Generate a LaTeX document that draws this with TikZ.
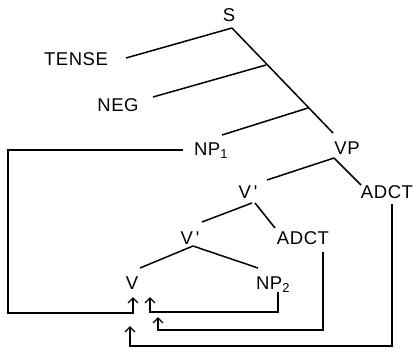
\documentclass[tikz,border=0pt]{standalone}
\usepackage{fontspec}
\setmainfont{Liberation Sans}[LetterSpace=3]
\usepackage{tikz}
\usetikzlibrary{arrows.meta}

\tikzset{
  cat/.style={font=\fontsize{18.5}{20}\selectfont, inner sep=2pt, text height=13pt, text depth=0pt},
  branch/.style={line width=1.5pt},
  move/.style={line width=1.4pt, -{Straight Barb[length=5pt,width=10pt]}}
}

\begin{document}
\begin{tikzpicture}[x=1pt,y=-1pt]
        \useasboundingbox (0,0) rectangle (413,349);
        % categories
        \node[cat] (S) at (229,15) {S};
        \node[cat] (TENSE) at (76,59) {TENSE};
        \node[cat] (NEG) at (118,105) {NEG};
        \node[cat] (NPa) at (211,149) {NP\textsubscript{1}};
        \node[cat] (VP) at (347,148) {VP};
        \node[cat] (Vbarhi) at (248,192) {V\,\textquotesingle};
        \node[cat] (ADCThi) at (387,192) {ADCT};
        \node[cat] (Vbarlo) at (190,238) {V\,\textquotesingle};
        \node[cat] (ADCTlo) at (303,238) {ADCT};
        \node[cat] (V) at (132,283) {V};
        \node[cat] (NPb) at (273,283) {NP\textsubscript{2}};
        % joins on the S--VP line
        \coordinate (joinNEG) at (266,65);
        \coordinate (joinNP) at (308,108);
        % landing sites
        \coordinate (landNPa) at (133,297);
        \coordinate (landNPb) at (150,297);
        \coordinate (landADlo) at (158,317);
        \coordinate (landADhi) at (130,326);
        % tree
        \draw[branch] ([shift={(3,13)}]S.center) -- ([shift={(50,-1)}]TENSE.center);
        \draw[branch] ([shift={(3,13)}]S.center) -- ([shift={(-14,-15)}]VP.center);
        \draw[branch] (joinNEG) -- ([shift={(35,-8)}]NEG.center);
        \draw[branch] (joinNP) -- ([shift={(11,-14)}]NPa.center);
        \draw[branch] ([shift={(-13,10)}]VP.center) -- ([shift={(19,-12)}]Vbarhi.center);
        \draw[branch] ([shift={(-13,10)}]VP.center) -- ([shift={(-26,-7)}]ADCThi.center);
        \draw[branch] ([shift={(4,11)}]Vbarhi.center) -- ([shift={(12,-16)}]Vbarlo.center);
        \draw[branch] ([shift={(7,11)}]Vbarhi.center) -- ([shift={(-28,-10)}]ADCTlo.center);
        \draw[branch] ([shift={(3,8)}]Vbarlo.center) -- ([shift={(8,-15)}]V.center);
        \draw[branch] ([shift={(3,8)}]Vbarlo.center) -- ([shift={(-15,-15)}]NPb.center);
        % movement lines
        \draw[move] ([shift={(-28,1)}]NPa.center) -| (8,313) -| (landNPa);
        \draw[move] ([shift={(5,9)}]NPb.center) -- ++(0,20) -| (landNPb);
        \draw[move] ([shift={(20,14)}]ADCTlo.center) |- (200,330) -| (landADlo);
        \draw[move] ([shift={(5,12)}]ADCThi.center) |- (200,346) -| (landADhi);
\end{tikzpicture}
\end{document}
